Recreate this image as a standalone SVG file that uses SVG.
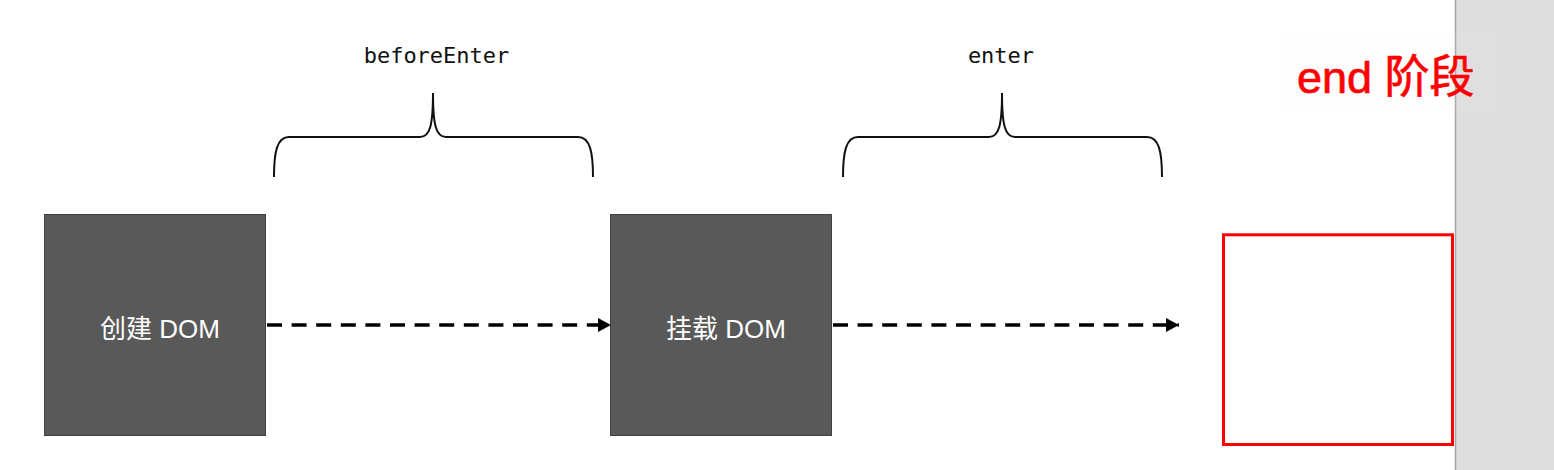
<svg xmlns="http://www.w3.org/2000/svg" width="1554" height="470" viewBox="0 0 1554 470">
<style>
.box{fill:#595959;stroke:#404040;stroke-width:1}
.boxtxt{font-family:"Liberation Sans","Noto Sans CJK SC",sans-serif;font-size:26px;fill:#ffffff;text-anchor:middle}
.lbl{font-family:"DejaVu Sans Mono","Liberation Mono",monospace;font-size:22px;fill:#111111;text-anchor:middle}
.brace{fill:none;stroke:#111111;stroke-width:2}
.conn{fill:none;stroke:#000000;stroke-width:3.5;stroke-dasharray:15 9.6}
</style>
<defs>
<marker id="ah" markerUnits="userSpaceOnUse" markerWidth="14" markerHeight="15" refX="13" refY="7.5" orient="auto">
<path d="M0,0.5 L13,7.5 L0,14.5 Z" fill="#000000"/>
</marker>
</defs>
<rect x="0" y="0" width="1554" height="470" fill="#ffffff"/>
<g id="panel">
<rect x="1455" y="0" width="99" height="470" fill="#dedede"/>
<line x1="1455.5" y1="0" x2="1455.5" y2="470" stroke="#a6a6a6" stroke-width="1.5"/>
</g>
<g id="braces">
<g id="brace-beforeEnter">
<path class="brace" d="M274,177 C274,152 277,137 289,137 L420,137 C430,137 433,125 433,93 C433,125 436,137 446,137 L578,137 C590,137 593,152 593,177"/>
<text class="lbl" x="436.5" y="63">beforeEnter</text>
</g>
<g id="brace-enter">
<path class="brace" d="M843,177 C843,152 846,137 858,137 L989,137 C999,137 1002,125 1002,93 C1002,125 1005,137 1015,137 L1147,137 C1159,137 1162,152 1162,177"/>
<text class="lbl" x="1001" y="63">enter</text>
</g>
</g>
<g id="connectors">
<line class="conn" x1="267" y1="325" x2="611" y2="325" marker-end="url(#ah)"/>
<line class="conn" x1="833" y1="325" x2="1179" y2="325" marker-end="url(#ah)"/>
</g>
<g id="node-create">
<rect class="box" x="44.5" y="214.5" width="221" height="221"/>
<text class="boxtxt" x="160" y="338">创建 DOM</text>
</g>
<g id="node-mount">
<rect class="box" x="610.5" y="214.5" width="221" height="221"/>
<text class="boxtxt" x="726" y="338">挂载 DOM</text>
</g>
<g id="node-end">
<rect x="1223.5" y="234.8" width="229" height="209.7" fill="#ffffff" stroke="#ff0000" stroke-width="3"/>
</g>
<g id="end-label">
<rect x="1278" y="33" width="219" height="81" fill="#f6f2f2" opacity="0.08"/>
<text x="1297" y="93" font-family="Liberation Sans,'Noto Sans CJK SC',sans-serif" font-size="45" fill="#ff0000" stroke="#ff0000" stroke-width="0.7">end 阶段</text>
</g>
</svg>
